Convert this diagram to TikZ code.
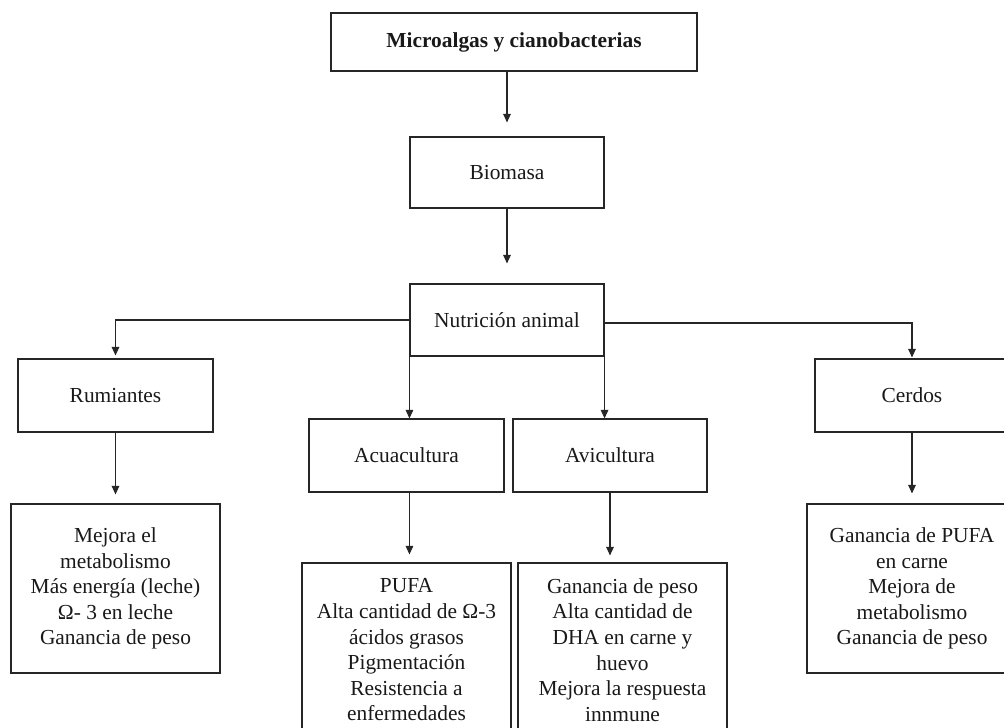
\documentclass[tikz,border=0pt]{standalone}
\usepackage{fontspec}
\setmainfont{Liberation Serif}
\usetikzlibrary{arrows.meta}
\begin{document}
\begin{tikzpicture}[x=1pt,y=-1pt,
  box/.style={draw=black!85,line width=1.1pt,inner sep=0pt,align=center,
    font=\fontsize{21.4}{25.6}\selectfont,text=black!90},
  conn/.style={draw=black!85,line width=1.1pt,-{Triangle[width=7.5pt,length=8.5pt]}},
  plain/.style={draw=black!85,line width=1.1pt}]
\useasboundingbox (0,0) rectangle (1004,728);
\clip (0,0) rectangle (1004,728);
\fill[white] (0,0) rectangle (1004,728);

\node[box,minimum width=366pt,minimum height=58pt] (top) at (514,42) {\textbf{Microalgas y cianobacterias}};
\node[box,minimum width=194pt,minimum height=71pt] (bio) at (507,172.5) {Biomasa};
\node[box,minimum width=194pt,minimum height=72pt] (nut) at (507,320) {Nutrición animal};
\node[box,minimum width=195pt,minimum height=73pt] (rum) at (115.5,395.5) {Rumiantes};
\node[box,minimum width=195pt,minimum height=73pt] (acu) at (406.5,455.5) {Acuacultura};
\node[box,minimum width=194pt,minimum height=73pt] (avi) at (610,455.5) {Avicultura};
\node[box,minimum width=194pt,minimum height=73pt] (cer) at (912,395.5) {Cerdos};

\node[box,minimum width=209pt,minimum height=169pt] (rumr) at (115.5,588.5)
  {Mejora el\\metabolismo\\Más energía (leche)\\Ω- 3 en leche\\Ganancia de peso};
\node[box,minimum width=209pt,minimum height=174pt] (acur) at (406.5,650)
  {PUFA\\Alta cantidad de Ω-3\\ácidos grasos\\Pigmentación\\Resistencia a\\enfermedades};
\node[box,minimum width=209pt,minimum height=174pt] (avir) at (622.5,650)
  {Ganancia de peso\\Alta cantidad de\\DHA en carne y\\huevo\\Mejora la respuesta\\innmune};
\node[box,minimum width=210pt,minimum height=169pt] (cerr) at (912,588.5)
  {Ganancia de PUFA\\en carne\\Mejora de\\metabolismo\\Ganancia de peso};

\draw[conn,shorten >=14pt] (bio.north |- top.south) -- (bio.north);
\draw[conn,shorten >=20pt] (bio.south) -- (nut.north);
\draw[conn,shorten >=3pt] (nut.west) -| (rum.north);
\draw[conn,shorten >=1pt] ([yshift=-3pt]nut.east) -| (cer.north);
\draw[conn] (nut.south west) -- (nut.south west |- acu.north);
\draw[conn] (nut.south east) -- (nut.south east |- avi.north);
\draw[conn,shorten >=9pt] (rum.south) -- (rumr.north);
\draw[conn,shorten >=8pt] (acu.south -| nut.south west) -- (acur.north -| nut.south west);
\draw[conn,shorten >=7pt] (avi.south) -- (avi.south |- avir.north);
\draw[conn,shorten >=10pt] (cer.south) -- (cerr.north);
\end{tikzpicture}
\end{document}
